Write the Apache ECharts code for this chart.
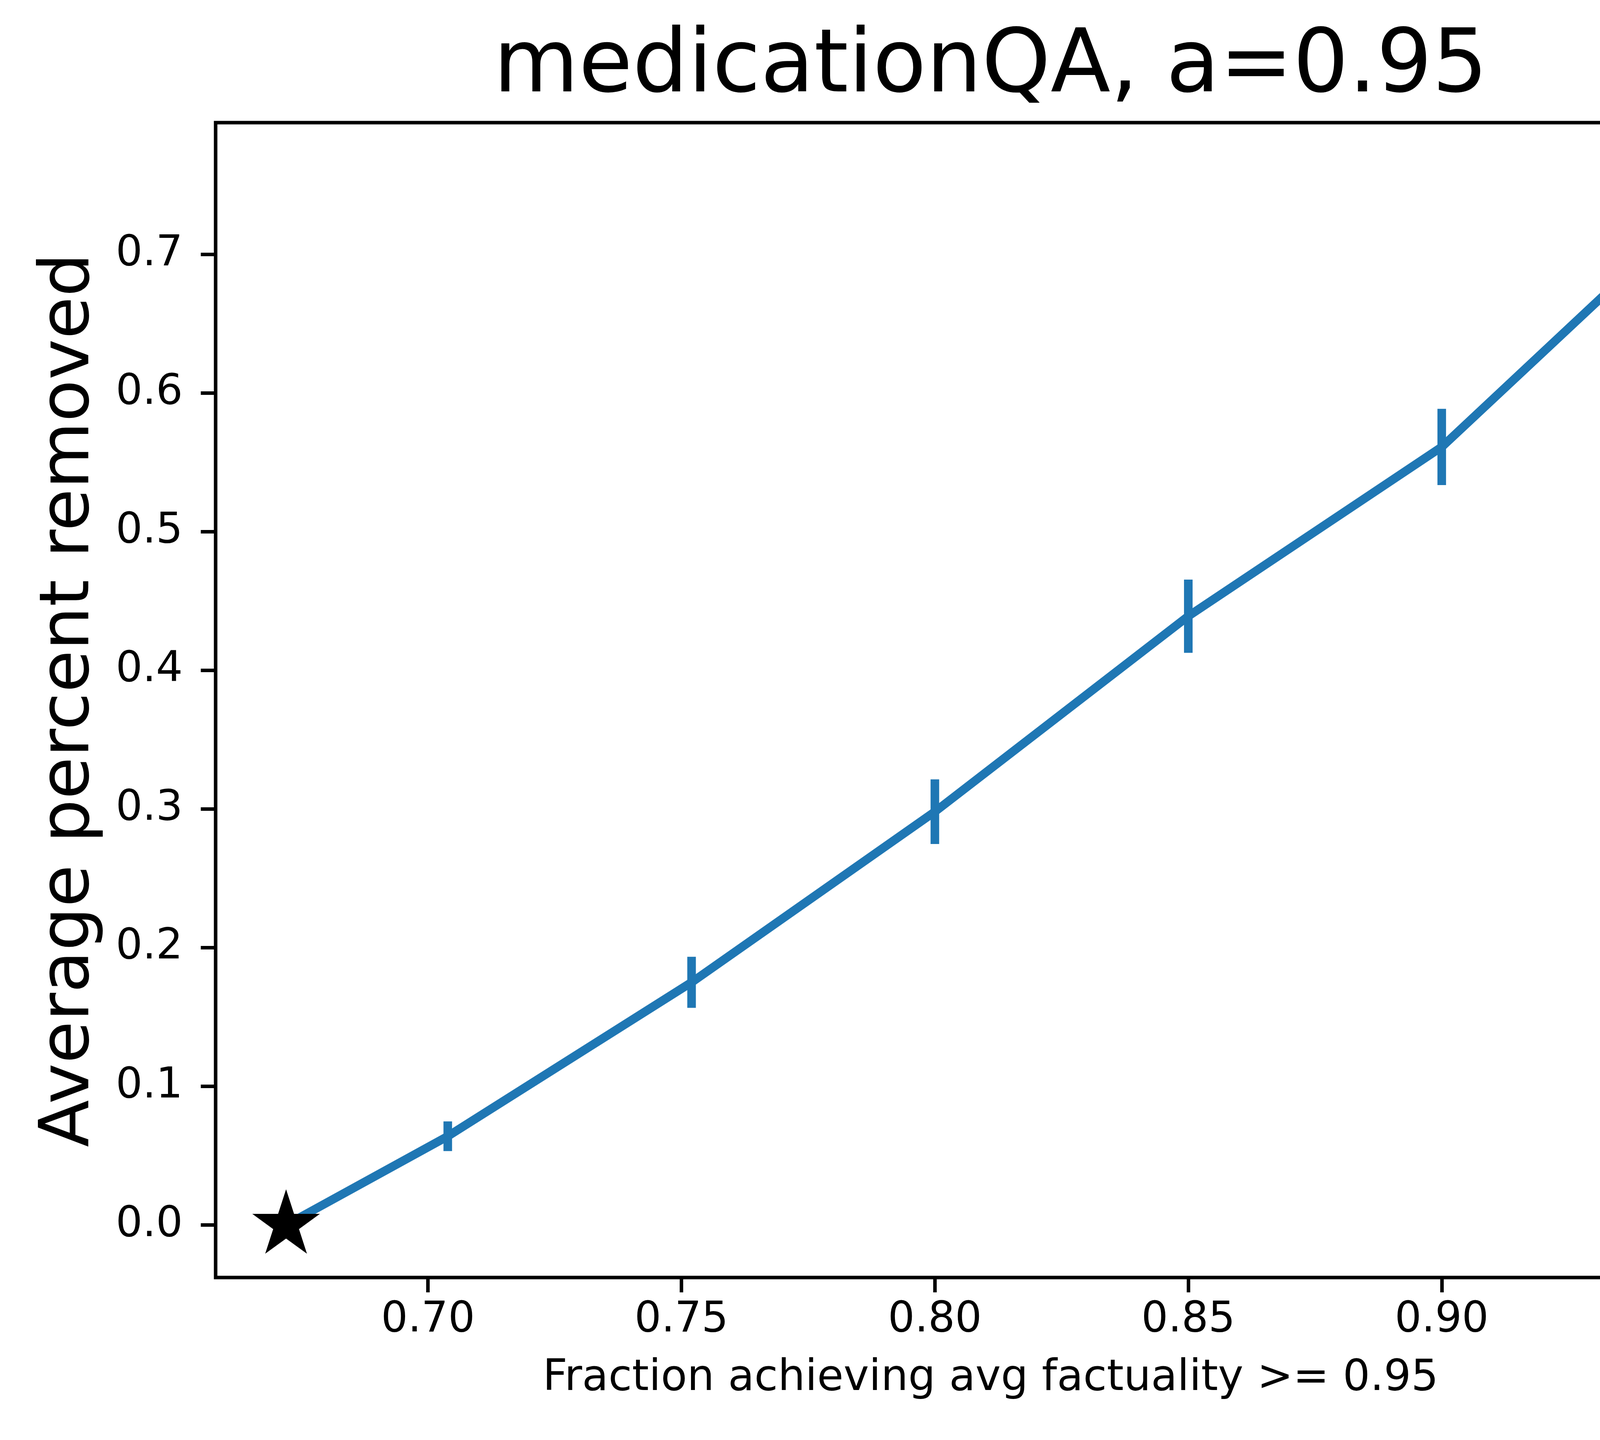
<!DOCTYPE html>
<html>
<head>
<meta charset="utf-8">
<script src="https://cdn.jsdelivr.net/npm/echarts@6/dist/echarts.min.js"></script>
<style>
  html, body { margin: 0; padding: 0; background: #fff; }
  #chart { width: 6268px; height: 3687px; }
</style>
</head>
<body>
<div id="chart"></div>
<script>
// data
var baseX = [0.672];
var baseY = [0.0];
var simX = [0.672, 0.7039, 0.752, 0.800, 0.850, 0.900, 0.950];
var simY = [0.000, 0.064, 0.175, 0.298, 0.439, 0.561, 0.732];
var simErr = [0.000, 0.0107, 0.0184, 0.0233, 0.0264, 0.0275, 0.025];
var xTicks = [0.70, 0.75, 0.80, 0.85, 0.90, 0.95];
var yTicks = [0.0, 0.1, 0.2, 0.3, 0.4, 0.5, 0.6, 0.7];

var blue = '#1f77b4';
var font = 'DejaVu Sans';

// matplotlib style 5 point star
function starPath() {
  var pts = [];
  for (var i = 0; i < 10; i++) {
    var r = i % 2 === 0 ? 100 : 38.1966;
    var a = (-90 + i * 36) * Math.PI / 180;
    pts.push((r * Math.cos(a)).toFixed(2) + ',' + (r * Math.sin(a)).toFixed(2));
  }
  return 'path://M' + pts.join(' L') + ' Z';
}
var star = starPath();
var plus = 'path://M0,62 L311,62 L311,84 L0,84 Z M144.5,0 L166.5,0 L166.5,146 L144.5,146 Z';

var simLine = simX.map(function (x, i) { return [x, simY[i]]; });
var simBars = simX.map(function (x, i) { return [x, simY[i], simErr[i]]; });
var basePts = baseX.map(function (x, i) { return [x, baseY[i]]; });

var xSpan = 0.95 - 0.672, ySpan = 0.757;

var chart = echarts.init(document.getElementById('chart'));
chart.setOption({
  animation: false,
  backgroundColor: '#fff',
  textStyle: { fontFamily: font },
  title: {
    text: 'medicationQA, a=0.95',
    left: 2536,
    top: 64,
    textAlign: 'center',
    padding: 0,
    textStyle: { fontFamily: font, fontSize: 224, fontWeight: 'normal', color: '#000' }
  },
  grid: {
    left: 552, right: 1748, top: 314, bottom: 416,
    show: true, borderColor: '#000', borderWidth: 9, backgroundColor: 'transparent'
  },
  legend: {
    left: 4593, top: 386,
    orient: 'vertical',
    padding: [39, 49, 55, 47],
    itemWidth: 311, itemHeight: 166, itemGap: 42,
    borderColor: '#d6d6d6', borderWidth: 9, borderRadius: 30,
    backgroundColor: '#fff',
    itemStyle: { borderWidth: 0 },
    textStyle: { fontFamily: font, fontSize: 145, color: '#000', padding: [0, 0, 0, 110] },
    data: [
      { name: 'Base factuality', icon: star },
      { name: 'Similarity', icon: plus }
    ]
  },
  xAxis: {
    type: 'value',
    min: 0.672 - 0.05 * xSpan,
    max: 0.95 + 0.05 * xSpan,
    name: 'Fraction achieving avg factuality >= 0.95',
    nameLocation: 'middle',
    nameGap: 204,
    nameTextStyle: { fontFamily: font, fontSize: 110, color: '#000' },
    axisLine: { show: false, onZero: false },
    splitLine: { show: false },
    axisTick: { show: true, length: 38, customValues: xTicks, lineStyle: { color: '#000', width: 9 } },
    axisLabel: {
      customValues: xTicks, margin: 56, fontSize: 108, color: '#000', fontFamily: font,
      formatter: function (v) { return v.toFixed(2); }
    }
  },
  yAxis: {
    type: 'value',
    min: -0.05 * ySpan,
    max: 1.05 * ySpan,
    name: 'Average percent removed',
    nameLocation: 'middle',
    nameGap: 284,
    nameTextStyle: { fontFamily: font, fontSize: 176, color: '#000' },
    axisLine: { show: false, onZero: false },
    splitLine: { show: false },
    axisTick: { show: true, length: 38, customValues: yTicks, lineStyle: { color: '#000', width: 9 } },
    axisLabel: {
      customValues: yTicks, margin: 84, fontSize: 108, color: '#000', fontFamily: font,
      formatter: function (v) { return v.toFixed(1); }
    }
  },
  series: [
    {
      name: 'Similarity',
      type: 'line',
      data: simLine,
      showSymbol: false,
      symbol: 'none',
      color: blue,
      lineStyle: { color: blue, width: 22, join: 'round' },
      z: 2
    },
    {
      name: 'Similarity err',
      type: 'custom',
      data: simBars,
      encode: { x: 0, y: 1 },
      renderItem: function (params, api) {
        var x = api.value(0), y = api.value(1), e = api.value(2);
        if (!(e > 0)) return null;
        var p1 = api.coord([x, y - e]);
        var p2 = api.coord([x, y + e]);
        return {
          type: 'line',
          shape: { x1: p1[0], y1: p1[1], x2: p2[0], y2: p2[1] },
          style: { stroke: blue, lineWidth: 22, lineCap: 'butt' }
        };
      },
      z: 3
    },
    {
      name: 'Base factuality',
      type: 'scatter',
      data: basePts,
      symbol: star,
      symbolSize: [173, 165],
      symbolOffset: [0, -9],
      itemStyle: { color: '#000', borderWidth: 0, opacity: 1 },
      z: 4
    }
  ]
});
</script>
</body>
</html>
